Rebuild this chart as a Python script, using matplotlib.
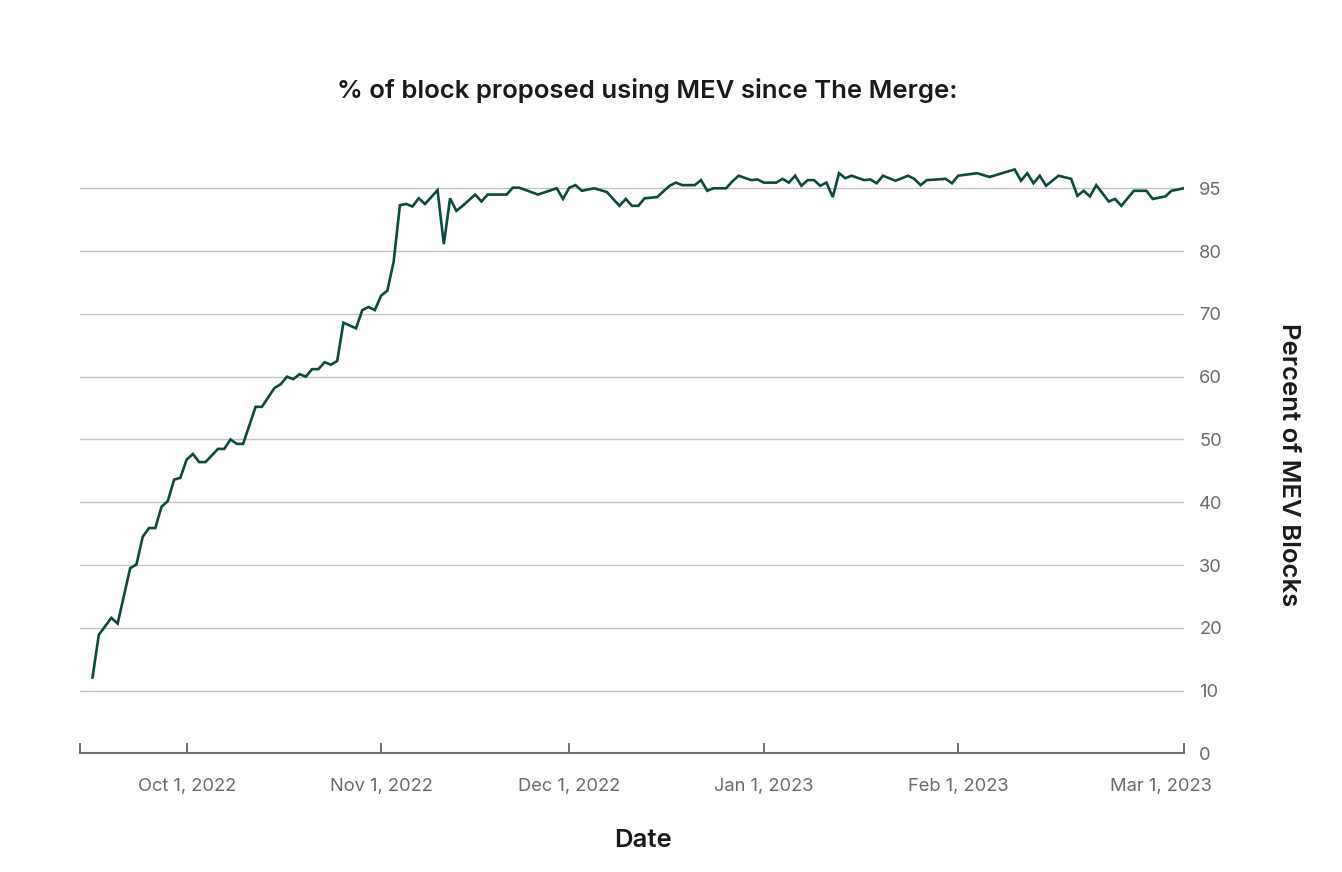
import pandas as pd
import matplotlib
matplotlib.use("Agg")
import matplotlib.pyplot as plt

plt.rcParams['font.family'] = ['Inter', 'DejaVu Sans']

# days after 2022-09-16 (day after The Merge) and % of MEV blocks
start = pd.Timestamp('2022-09-16')
days = [0, 1, 3, 4, 6, 7, 8, 9, 10, 11,
        12, 13, 14, 15, 16, 17, 18, 20, 21, 22,
        23, 24, 26, 27, 29, 30, 31, 32, 33, 34,
        35, 36, 37, 38, 39, 40, 42, 43, 44, 45,
        46, 47, 48, 49, 50, 51, 52, 53, 55, 56,
        57, 58, 59, 61, 62, 63, 66, 67, 68, 71,
        74, 75, 76, 77, 78, 80, 82, 83, 84, 85,
        86, 87, 88, 90, 92, 93, 94, 96, 97, 98,
        99, 101, 102, 103, 105, 106, 107, 109, 110, 111,
        112, 113, 114, 115, 116, 117, 118, 119, 120, 121,
        123, 124, 125, 126, 128, 130, 131, 132, 133, 136,
        137, 138, 141, 143, 147, 148, 149, 150, 151, 152,
        154, 156, 157, 158, 159, 160, 162, 163, 164, 166,
        168, 169, 171, 172, 174]
mev_pct = [12.1, 18.9, 21.6, 20.7, 29.5, 30.1, 34.5, 35.9, 35.9, 39.3,
           40.2, 43.6, 43.9, 46.8, 47.7, 46.4, 46.4, 48.5, 48.5, 50.0,
           49.3, 49.3, 55.2, 55.2, 58.2, 58.8, 60.0, 59.6, 60.4, 60.0,
           61.2, 61.2, 62.3, 61.9, 62.5, 68.6, 67.7, 70.6, 71.1, 70.6,
           72.9, 73.7, 78.3, 87.3, 87.5, 87.1, 88.4, 87.5, 89.7, 81.1,
           88.4, 86.4, 87.2, 89.0, 87.9, 89.0, 89.0, 90.1, 90.1, 89.0,
           90.0, 88.3, 90.1, 90.5, 89.6, 90.0, 89.4, 88.3, 87.2, 88.3,
           87.2, 87.2, 88.4, 88.6, 90.4, 90.9, 90.5, 90.5, 91.3, 89.6,
           90.0, 90.0, 91.1, 92.0, 91.3, 91.4, 90.9, 90.9, 91.5, 90.9,
           92.0, 90.4, 91.3, 91.3, 90.4, 90.9, 88.6, 92.4, 91.6, 92.0,
           91.3, 91.4, 90.8, 92.0, 91.2, 92.0, 91.5, 90.5, 91.3, 91.5,
           90.8, 92.0, 92.4, 91.8, 93.0, 91.2, 92.4, 90.8, 92.0, 90.4,
           92.0, 91.5, 88.8, 89.6, 88.7, 90.5, 87.9, 88.3, 87.2, 89.6,
           89.6, 88.3, 88.7, 89.6, 90.0]

tick_dates = ['2022-10-01', '2022-11-01', '2022-12-01', '2023-01-01', '2023-02-01']
tick_labels = ['Oct 1, 2022', 'Nov 1, 2022', 'Dec 1, 2022', 'Jan 1, 2023', 'Feb 1, 2023']
end_label = 'Mar 1, 2023'
y_ticks = [0, 10, 20, 30, 40, 50, 60, 70, 80, 90]
y_labels = ['0', '10', '20', '30', '40', '50', '60', '70', '80', '95']

dates = start + pd.to_timedelta(days, unit='D')
x_left = start - pd.Timedelta(days=2)
x_right = dates[-1]

fig = plt.figure(figsize=(13.42, 8.72), dpi=100)
ax = fig.add_axes([0.0596, 0.1359, 0.8227, 0.6842])

ax.plot(dates, mev_pct, color='#0a4a3f', linewidth=1.9, solid_joinstyle='miter')

ax.set_xlim(x_left, x_right)
ax.set_ylim(0, 95)

# grid
ax.yaxis.tick_right()
ax.set_yticks(y_ticks)
ax.set_yticklabels(y_labels)
ax.grid(axis='y', color='#c4c4c4', linewidth=1.0)
ax.set_axisbelow(True)
ax.tick_params(axis='y', which='major', right=True, length=0, pad=11,
               labelsize=13.2, labelcolor='#6b6b6b')

# x axis: ticks pointing up, caps at both ends
xt = [x_left] + list(pd.to_datetime(tick_dates)) + [x_right]
ax.set_xticks(xt)
ax.set_xticklabels([''] + tick_labels + [''])
ax.tick_params(axis='x', direction='in', length=7.5, width=1.4, color='#707070',
               pad=18, labelsize=13.2, labelcolor='#6b6b6b')
ax.annotate(end_label, xy=(1.0, 0.0), xycoords='axes fraction',
            xytext=(20, -18), textcoords='offset points', ha='right', va='top',
            fontsize=13.2, color='#6b6b6b')

for side in ['top', 'left', 'right']:
    ax.spines[side].set_visible(False)
ax.spines['bottom'].set_color('#707070')
ax.spines['bottom'].set_linewidth(1.5)

ax.set_xlabel('Date', fontsize=18.5, fontweight='semibold', color='#1a1a1a')
ax.xaxis.set_label_coords(0.51, -0.127)
ax.yaxis.set_label_position('right')
ax.set_ylabel('Percent of MEV Blocks', fontsize=18.5, fontweight='semibold', color='#1a1a1a',
              rotation=270, va='center', ha='center')
ax.yaxis.set_label_coords(1.095, 0.484)
fig.text(0.482, 0.896, '% of block proposed using MEV since The Merge:', ha='center', va='center',
         fontsize=18.5, fontweight='semibold', color='#1a1a1a')

fig.savefig('out.png', dpi=100, facecolor='white')
